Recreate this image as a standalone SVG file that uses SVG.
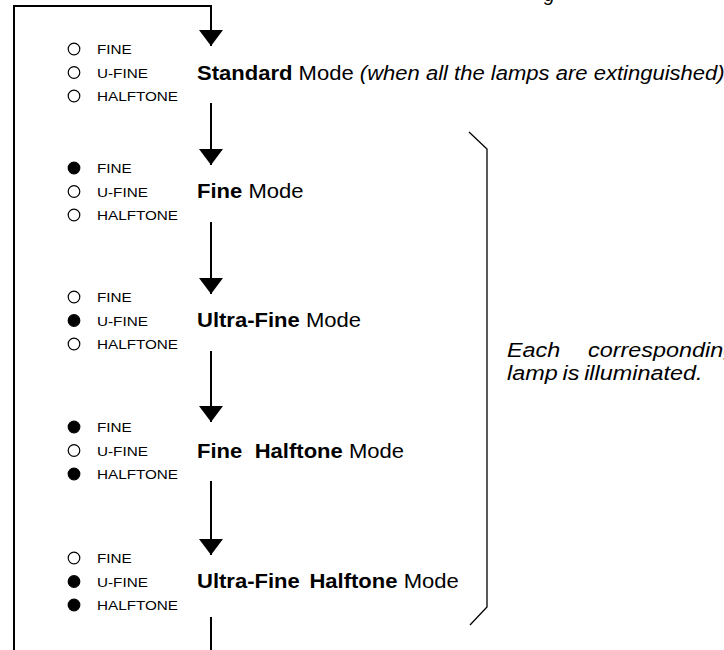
<svg xmlns="http://www.w3.org/2000/svg" width="724" height="650" viewBox="0 0 724 650">
  <style>
    text { font-family: "Liberation Sans", Arial, Helvetica, sans-serif; fill: #000; }
    .lamp { font-size: 13.5px; }
    .mode { font-size: 19.5px; }
    .b { font-weight: bold; }
    .i { font-style: italic; }
    .off { fill: #fff; stroke: #000; stroke-width: 1.2; }
    .on { fill: #000; stroke: #000; stroke-width: 1.2; }
    .flow { fill: none; stroke: #000; stroke-width: 2; }
    .brace { fill: none; stroke: #000; stroke-width: 1.3; }
  </style>
  <defs>
    <marker id="ah" markerUnits="userSpaceOnUse" markerWidth="16" markerHeight="24" refX="16" refY="12" orient="auto">
      <path d="M0,0 L16,12 L0,24 Z" fill="#000"/>
    </marker>
  </defs>

  <rect width="724" height="650" fill="#fff"/>

  <!-- tail of a text line running in from above -->
  <text class="mode i" x="544" y="0.5">g</text>

  <!-- flow connectors between the modes -->
  <g id="connectors">
    <path class="flow" d="M14,650 L14,6 L211,6 L211,46" marker-end="url(#ah)"/>
    <path class="flow" d="M211,103 L211,165" marker-end="url(#ah)"/>
    <path class="flow" d="M211,222 L211,294" marker-end="url(#ah)"/>
    <path class="flow" d="M211,351 L211,422" marker-end="url(#ah)"/>
    <path class="flow" d="M211,481 L211,555" marker-end="url(#ah)"/>
    <path class="flow" d="M211,617 L211,650"/>
  </g>

  <!-- Standard mode -->
  <g id="mode-standard">
    <circle class="off" cx="74" cy="49" r="5.8"/>
    <circle class="off" cx="74" cy="72.5" r="5.8"/>
    <circle class="off" cx="74" cy="96" r="5.8"/>
    <text class="lamp" transform="translate(97,54) scale(1.13,1)">FINE</text>
    <text class="lamp" transform="translate(97,77.5) scale(1.13,1)">U-FINE</text>
    <text class="lamp" transform="translate(97,101) scale(1.13,1)">HALFTONE</text>
    <text class="mode" transform="translate(197,79.5) scale(1.13,1)"><tspan class="b">Standard</tspan> Mode <tspan class="i">(when all the lamps are extinguished)</tspan></text>
  </g>

  <!-- Fine mode -->
  <g id="mode-fine">
    <circle class="on" cx="74" cy="168" r="5.8"/>
    <circle class="off" cx="74" cy="191.5" r="5.8"/>
    <circle class="off" cx="74" cy="215" r="5.8"/>
    <text class="lamp" transform="translate(97,173) scale(1.13,1)">FINE</text>
    <text class="lamp" transform="translate(97,196.5) scale(1.13,1)">U-FINE</text>
    <text class="lamp" transform="translate(97,220) scale(1.13,1)">HALFTONE</text>
    <text class="mode" transform="translate(197,198) scale(1.13,1)"><tspan class="b">Fine</tspan> Mode</text>
  </g>

  <!-- Ultra-Fine mode -->
  <g id="mode-ultra-fine">
    <circle class="off" cx="74" cy="297" r="5.8"/>
    <circle class="on" cx="74" cy="320.5" r="5.8"/>
    <circle class="off" cx="74" cy="344" r="5.8"/>
    <text class="lamp" transform="translate(97,302) scale(1.13,1)">FINE</text>
    <text class="lamp" transform="translate(97,325.5) scale(1.13,1)">U-FINE</text>
    <text class="lamp" transform="translate(97,349) scale(1.13,1)">HALFTONE</text>
    <text class="mode" transform="translate(197,327) scale(1.13,1)"><tspan class="b">Ultra-Fine</tspan> Mode</text>
  </g>

  <!-- Fine Halftone mode -->
  <g id="mode-fine-halftone">
    <circle class="on" cx="74" cy="427" r="5.8"/>
    <circle class="off" cx="74" cy="450.5" r="5.8"/>
    <circle class="on" cx="74" cy="474" r="5.8"/>
    <text class="lamp" transform="translate(97,432) scale(1.13,1)">FINE</text>
    <text class="lamp" transform="translate(97,455.5) scale(1.13,1)">U-FINE</text>
    <text class="lamp" transform="translate(97,479) scale(1.13,1)">HALFTONE</text>
    <text class="mode" transform="translate(197,458) scale(1.13,1)"><tspan class="b">Fine</tspan><tspan class="b" dx="11">Halftone</tspan> Mode</text>
  </g>

  <!-- Ultra-Fine Halftone mode -->
  <g id="mode-ultra-fine-halftone">
    <circle class="off" cx="74" cy="558" r="5.8"/>
    <circle class="on" cx="74" cy="581.5" r="5.8"/>
    <circle class="on" cx="74" cy="605" r="5.8"/>
    <text class="lamp" transform="translate(97,563) scale(1.13,1)">FINE</text>
    <text class="lamp" transform="translate(97,586.5) scale(1.13,1)">U-FINE</text>
    <text class="lamp" transform="translate(97,610) scale(1.13,1)">HALFTONE</text>
    <text class="mode" transform="translate(197,588) scale(1.13,1)"><tspan class="b">Ultra-Fine</tspan><tspan class="b" dx="8.5">Halftone</tspan> Mode</text>
  </g>

  <!-- bracket over the lamp-lit modes with its note -->
  <g id="note-lit">
    <path class="brace" d="M469,132 L487,149 L487,607 L470,625"/>
    <text class="mode i" transform="translate(507,357) scale(1.2,1)">Each</text>
    <text class="mode i" transform="translate(588,357) scale(1.2,1)">corresponding</text>
    <text class="mode i" transform="translate(507,380) scale(1.2,1)">lamp<tspan dx="4">is</tspan><tspan dx="4">illuminated.</tspan></text>
  </g>
</svg>
